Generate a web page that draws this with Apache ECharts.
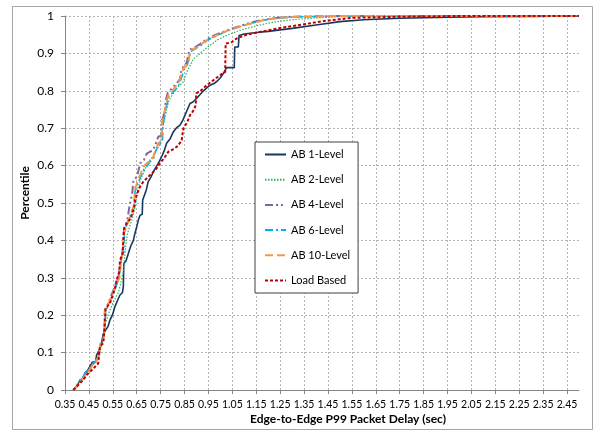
<!DOCTYPE html>
<html>
<head>
<meta charset="utf-8">
<script src="https://cdn.jsdelivr.net/npm/echarts@6/dist/echarts.min.js"></script>
<style>html,body{margin:0;padding:0;background:#fff}#c{width:595px;height:431px}</style>
</head>
<body>
<div id="c"></div>
<script>
// ---- data: [delay (sec), percentile] ----
const seriesNames = ['AB 1-Level', 'AB 2-Level', 'AB 4-Level', 'AB 6-Level', 'AB 10-Level', 'Load Based'];

const ab1 = [[0.385,0],[0.40,0.01],[0.413,0.027],[0.425,0.03],[0.433,0.045],[0.447,0.055],[0.455,0.06],[0.465,0.075],[0.478,0.075],[0.482,0.093],[0.49,0.093],[0.496,0.11],[0.503,0.125],[0.51,0.15],[0.52,0.16],[0.53,0.17],[0.538,0.187],[0.548,0.2],[0.559,0.223],[0.57,0.24],[0.58,0.254],[0.59,0.26],[0.594,0.276],[0.596,0.338],[0.605,0.345],[0.615,0.365],[0.625,0.385],[0.636,0.40],[0.643,0.42],[0.65,0.436],[0.657,0.455],[0.664,0.467],[0.673,0.47],[0.675,0.508],[0.68,0.51],[0.69,0.535],[0.698,0.557],[0.71,0.57],[0.719,0.583],[0.74,0.606],[0.755,0.625],[0.765,0.64],[0.775,0.66],[0.79,0.672],[0.803,0.69],[0.815,0.70],[0.831,0.708],[0.842,0.72],[0.852,0.735],[0.862,0.75],[0.873,0.766],[0.885,0.77],[0.901,0.78],[0.915,0.79],[0.929,0.80],[0.943,0.808],[0.957,0.815],[0.975,0.82],[0.99,0.828],[1.0,0.835],[1.012,0.846],[1.026,0.862],[1.058,0.862],[1.06,0.917],[1.075,0.917],[1.078,0.948],[1.1,0.952],[1.15,0.956],[1.2,0.959],[1.25,0.963],[1.3,0.967],[1.4,0.976],[1.5,0.985],[1.6,0.99],[1.75,0.994],[1.9,0.996],[2.1,0.998],[2.3,0.999],[2.5,1.0]];

const ab2 = [[0.385,0],[0.40,0.012],[0.413,0.025],[0.43,0.04],[0.445,0.05],[0.46,0.062],[0.475,0.072],[0.488,0.085],[0.495,0.1],[0.5,0.12],[0.51,0.135],[0.52,0.18],[0.53,0.2],[0.545,0.225],[0.56,0.245],[0.573,0.26],[0.585,0.29],[0.594,0.316],[0.6,0.36],[0.605,0.39],[0.612,0.42],[0.622,0.44],[0.632,0.46],[0.64,0.48],[0.648,0.51],[0.655,0.54],[0.665,0.56],[0.678,0.58],[0.69,0.6],[0.705,0.615],[0.72,0.625],[0.735,0.645],[0.75,0.66],[0.758,0.70],[0.765,0.72],[0.775,0.75],[0.785,0.775],[0.80,0.79],[0.815,0.805],[0.83,0.815],[0.845,0.824],[0.859,0.85],[0.875,0.87],[0.887,0.885],[0.90,0.892],[0.915,0.90],[0.943,0.915],[0.97,0.928],[0.99,0.937],[1.026,0.948],[1.082,0.962],[1.14,0.972],[1.194,0.98],[1.25,0.986],[1.3,0.99],[1.4,0.995],[1.5,0.998],[1.6,0.999],[1.7,1.0],[2.5,1.0]];

const ab4 = [[0.385,0],[0.40,0.012],[0.413,0.025],[0.425,0.032],[0.44,0.047],[0.455,0.058],[0.468,0.072],[0.48,0.078],[0.489,0.09],[0.495,0.105],[0.499,0.125],[0.51,0.136],[0.514,0.16],[0.517,0.215],[0.528,0.228],[0.538,0.243],[0.548,0.26],[0.559,0.276],[0.566,0.29],[0.573,0.30],[0.58,0.33],[0.586,0.355],[0.591,0.37],[0.594,0.41],[0.597,0.43],[0.605,0.445],[0.612,0.46],[0.618,0.485],[0.625,0.49],[0.632,0.53],[0.636,0.56],[0.645,0.565],[0.655,0.58],[0.664,0.606],[0.68,0.615],[0.692,0.632],[0.705,0.637],[0.715,0.64],[0.725,0.65],[0.74,0.677],[0.752,0.68],[0.755,0.72],[0.761,0.73],[0.768,0.75],[0.772,0.775],[0.78,0.795],[0.795,0.805],[0.81,0.815],[0.83,0.83],[0.835,0.85],[0.845,0.865],[0.859,0.875],[0.87,0.91],[0.89,0.915],[0.915,0.925],[0.943,0.938],[0.97,0.947],[1.0,0.955],[1.05,0.967],[1.1,0.977],[1.15,0.986],[1.2,0.992],[1.25,0.996],[1.3,0.998],[1.4,0.999],[1.5,1.0],[2.5,1.0]];

const ab6 = [[0.385,0],[0.40,0.01],[0.413,0.024],[0.425,0.035],[0.44,0.05],[0.455,0.06],[0.468,0.07],[0.48,0.08],[0.489,0.09],[0.495,0.10],[0.50,0.125],[0.51,0.14],[0.516,0.17],[0.52,0.21],[0.53,0.225],[0.54,0.24],[0.55,0.255],[0.56,0.27],[0.568,0.285],[0.575,0.295],[0.582,0.33],[0.59,0.36],[0.596,0.37],[0.599,0.42],[0.605,0.435],[0.612,0.45],[0.62,0.46],[0.63,0.48],[0.638,0.49],[0.643,0.53],[0.65,0.545],[0.66,0.56],[0.67,0.575],[0.68,0.59],[0.695,0.60],[0.705,0.61],[0.72,0.618],[0.73,0.64],[0.742,0.655],[0.758,0.665],[0.76,0.71],[0.765,0.725],[0.77,0.74],[0.775,0.76],[0.785,0.785],[0.80,0.795],[0.815,0.805],[0.83,0.82],[0.84,0.84],[0.848,0.858],[0.862,0.87],[0.875,0.905],[0.895,0.912],[0.92,0.922],[0.945,0.935],[0.975,0.944],[1.01,0.955],[1.05,0.965],[1.1,0.975],[1.15,0.984],[1.2,0.991],[1.25,0.995],[1.3,0.997],[1.4,0.999],[1.5,1.0],[2.5,1.0]];

const ab10 = [[0.385,0],[0.40,0.01],[0.413,0.022],[0.425,0.03],[0.44,0.044],[0.455,0.055],[0.468,0.071],[0.48,0.075],[0.489,0.089],[0.493,0.10],[0.499,0.125],[0.51,0.134],[0.514,0.15],[0.517,0.214],[0.528,0.225],[0.538,0.24],[0.548,0.255],[0.559,0.272],[0.566,0.285],[0.573,0.294],[0.578,0.30],[0.58,0.32],[0.586,0.35],[0.591,0.365],[0.594,0.40],[0.597,0.42],[0.603,0.43],[0.608,0.441],[0.615,0.45],[0.622,0.463],[0.63,0.475],[0.636,0.49],[0.64,0.51],[0.643,0.539],[0.65,0.55],[0.657,0.566],[0.665,0.575],[0.678,0.597],[0.69,0.605],[0.698,0.61],[0.71,0.615],[0.719,0.623],[0.725,0.635],[0.733,0.646],[0.74,0.659],[0.754,0.668],[0.756,0.717],[0.761,0.726],[0.765,0.74],[0.77,0.755],[0.775,0.77],[0.782,0.788],[0.796,0.797],[0.81,0.81],[0.825,0.82],[0.831,0.824],[0.838,0.846],[0.845,0.86],[0.855,0.865],[0.866,0.873],[0.873,0.909],[0.894,0.913],[0.915,0.922],[0.93,0.93],[0.943,0.935],[0.97,0.944],[0.99,0.95],[1.012,0.957],[1.054,0.966],[1.096,0.975],[1.152,0.984],[1.194,0.991],[1.25,0.995],[1.3,0.997],[1.4,0.999],[1.5,1.0],[2.5,1.0]];

const loadBased = [[0.385,0],[0.40,0.01],[0.415,0.02],[0.427,0.027],[0.44,0.04],[0.455,0.049],[0.47,0.058],[0.48,0.065],[0.489,0.071],[0.496,0.116],[0.51,0.125],[0.515,0.16],[0.52,0.218],[0.538,0.232],[0.552,0.258],[0.56,0.275],[0.566,0.294],[0.577,0.316],[0.58,0.347],[0.591,0.365],[0.597,0.432],[0.608,0.445],[0.62,0.455],[0.629,0.467],[0.64,0.49],[0.643,0.508],[0.655,0.53],[0.665,0.545],[0.678,0.557],[0.695,0.568],[0.713,0.579],[0.73,0.59],[0.747,0.606],[0.765,0.62],[0.782,0.637],[0.80,0.643],[0.817,0.65],[0.83,0.66],[0.838,0.668],[0.845,0.699],[0.862,0.717],[0.873,0.735],[0.885,0.745],[0.897,0.761],[0.899,0.793],[0.915,0.799],[0.943,0.815],[0.97,0.828],[0.999,0.842],[1.02,0.85],[1.022,0.926],[1.047,0.93],[1.068,0.94],[1.11,0.95],[1.17,0.958],[1.25,0.968],[1.35,0.978],[1.45,0.988],[1.55,0.995],[1.75,0.998],[2.0,1.0],[2.5,1.0]];

// axis extents / tick step
const xMin = 0.35, xMax = 2.5, xStep = 0.1;
const yMin = 0, yMax = 1, yStep = 0.1;
const xTitle = 'Edge-to-Edge P99 Packet Delay (sec)';
const yTitle = 'Percentile';

const FONT = 'Lato, "Open Sans", sans-serif';
const styles = [
  {color: '#17375e', width: 1.6, type: 'solid'},
  {color: '#2db35d', width: 1.2, type: [1.5, 1.5]},
  {color: '#8064a2', width: 2, type: [8, 3, 2, 3, 2, 3]},
  {color: '#00b0f0', width: 1.6, type: [8, 3, 2, 3]},
  {color: '#f79646', width: 2, type: [8, 4]},
  {color: '#c00000', width: 2, type: [3, 2]}
];
const datas = [ab1, ab2, ab4, ab6, ab10, loadBased];

const chart = echarts.init(document.getElementById('c'), null, {renderer: 'canvas'});
chart.setOption({
  animation: false,
  backgroundColor: '#fff',
  grid: {left: 65, right: 16, top: 16, bottom: 41, containLabel: false, outerBoundsMode: 'none'},
  xAxis: {
    type: 'value', min: xMin, max: xMax, interval: xStep,
    axisLine: {show: true, lineStyle: {color: '#868686', width: 1}},
    axisTick: {show: true, length: 4, lineStyle: {color: '#868686'}},
    axisLabel: {color: '#000', fontSize: 10.5, fontFamily: FONT, margin: 9, showMaxLabel: false,
      formatter: v => v.toFixed(2)},
    splitLine: {show: true, showMaxLine: false, lineStyle: {color: '#b4b4b4', type: [2, 2], width: 1}}
  },
  yAxis: {
    type: 'value', min: yMin, max: yMax, interval: yStep,
    axisLine: {show: true, lineStyle: {color: '#868686', width: 1}},
    axisTick: {show: true, length: 4, lineStyle: {color: '#868686'}},
    axisLabel: {color: '#000', fontSize: 12, fontFamily: FONT, margin: 11,
      formatter: v => String(parseFloat(v.toFixed(1)))},
    splitLine: {show: true, lineStyle: {color: '#b4b4b4', type: [2, 2], width: 1}}
  },
  legend: {
    orient: 'vertical', left: 255, top: 142,
    itemWidth: 21, itemHeight: 10, itemGap: 14.2,
    padding: [7, 8, 7, 9],
    backgroundColor: '#fff', borderColor: '#404040', borderWidth: 1,
    itemStyle: {opacity: 0},
    textStyle: {fontSize: 11, fontFamily: FONT, color: '#000'},
    data: seriesNames
  },
  graphic: [
    {type: 'rect', shape: {x: 12.5, y: 6.5, width: 580, height: 423}, silent: true,
      style: {fill: 'none', stroke: '#a6a6a6', lineWidth: 1}, z: -1},
    {type: 'text', x: 348, y: 419, silent: true,
      style: {text: xTitle, font: 'bold 12px ' + FONT, fill: '#000', textAlign: 'center', textVerticalAlign: 'middle'}},
    {type: 'text', x: 25, y: 193, rotation: Math.PI / 2, silent: true,
      style: {text: yTitle, font: 'bold 12px ' + FONT, fill: '#000', textAlign: 'center', textVerticalAlign: 'middle'}}
  ],
  series: seriesNames.map((name, i) => ({
    name, type: 'line', data: datas[i], showSymbol: false, symbol: 'none',
    lineStyle: styles[i], itemStyle: {color: styles[i].color}, z: 2 + i
  }))
});
</script>
</body>
</html>
